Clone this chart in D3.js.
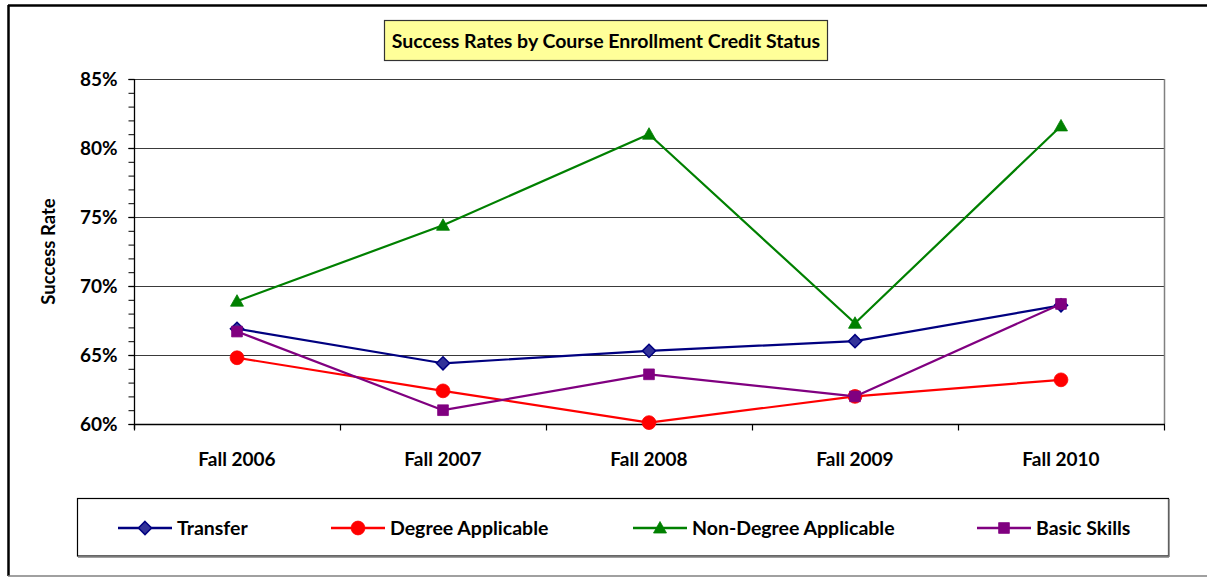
<!DOCTYPE html>
<html>
<head>
<meta charset="utf-8">
<script src="https://cdn.jsdelivr.net/npm/d3@7"></script>
<style>
  html, body { margin: 0; padding: 0; background: #fff; }
  svg { display: block; font-family: Lato, "Open Sans", sans-serif; }
</style>
</head>
<body>
<svg id="chart" width="1207" height="577"></svg>
<script>
const categories = ["Fall 2006", "Fall 2007", "Fall 2008", "Fall 2009", "Fall 2010"];
const transfer = [0.669, 0.644, 0.653, 0.660, 0.686];
const degreeApplicable = [0.648, 0.624, 0.601, 0.620, 0.632];
const nonDegreeApplicable = [0.689, 0.744, 0.810, 0.673, 0.816];
const basicSkills = [0.667, 0.610, 0.636, 0.620, 0.687];
const yTickValues = [0.60, 0.65, 0.70, 0.75, 0.80, 0.85];
const yMinorTickValues = d3.range(60, 86, 1).map(v => v / 100);
const titleText = "Success Rates by Course Enrollment Credit Status";
const yAxisTitle = "Success Rate";

const series = [
  { name: "Transfer", values: transfer, color: "#000080", fill: "#333399", shape: "diamond" },
  { name: "Degree Applicable", values: degreeApplicable, color: "#FF0000", fill: "#FF0000", shape: "circle" },
  { name: "Non-Degree Applicable", values: nonDegreeApplicable, color: "#008000", fill: "#008000", shape: "triangle" },
  { name: "Basic Skills", values: basicSkills, color: "#800080", fill: "#800080", shape: "square" }
];

const svg = d3.select("#chart");
const W = 1207, H = 577;
const plot = { left: 134, right: 1164, top: 79, bottom: 424 };

// outer chart border
svg.append("line").attr("x1", 8).attr("x2", W).attr("y1", 5.5).attr("y2", 5.5)
  .attr("stroke", "#000").attr("stroke-width", 2.5);
svg.append("line").attr("x1", 8.5).attr("x2", 8.5).attr("y1", 5).attr("y2", 576)
  .attr("stroke", "#000").attr("stroke-width", 2.5);
svg.append("line").attr("x1", 8).attr("x2", W).attr("y1", 576).attr("y2", 576)
  .attr("stroke", "#808080").attr("stroke-width", 1.5);

const x = d3.scaleBand().domain(categories).range([plot.left, plot.right]);
const y = d3.scaleLinear().domain([0.60, 0.85]).range([plot.bottom, plot.top]);

// gridlines
svg.append("g").selectAll("line").data(yTickValues).join("line")
  .attr("x1", plot.left).attr("x2", plot.right)
  .attr("y1", d => Math.round(y(d)) + 0.5).attr("y2", d => Math.round(y(d)) + 0.5)
  .attr("stroke", "#3a3a3a").attr("stroke-width", 1.2);

// plot area right border
svg.append("line").attr("x1", plot.right + 0.5).attr("x2", plot.right + 0.5)
  .attr("y1", plot.top).attr("y2", plot.bottom)
  .attr("stroke", "#808080").attr("stroke-width", 1.5);

// y axis minor ticks
const yMinor = svg.append("g").attr("transform", `translate(${plot.left + 0.5},0)`)
  .call(d3.axisLeft(y).tickValues(yMinorTickValues).tickSize(6).tickFormat(""));
yMinor.select(".domain").remove();
yMinor.selectAll("line").attr("stroke", "#000").attr("stroke-width", 1);

// y axis major
const yAxis = svg.append("g").attr("transform", `translate(${plot.left + 0.5},0)`)
  .call(d3.axisLeft(y).tickValues(yTickValues).tickSize(6).tickPadding(11).tickFormat(d3.format(".0%")))
  .call(g => g.select(".domain").attr("d", `M0,${plot.top}V${plot.bottom + 5}`));
yAxis.selectAll("text").attr("font-family", "Lato, sans-serif").attr("font-size", 19)
  .attr("font-weight", "bold").attr("fill", "#000");
yAxis.selectAll("path, line").attr("stroke", "#000").attr("stroke-width", 1.3);

// x axis with tick marks between categories
const xAxis = svg.append("g").attr("transform", `translate(0,${plot.bottom + 0.5})`);
xAxis.append("line").attr("x1", plot.left).attr("x2", plot.right + 1)
  .attr("stroke", "#000").attr("stroke-width", 1.3);
const boundaries = categories.map(c => x(c)).concat([x(categories[categories.length - 1]) + x.bandwidth()]);
xAxis.selectAll("line.tk").data(boundaries).join("line").attr("class", "tk")
  .attr("x1", d => Math.round(d) + 0.5).attr("x2", d => Math.round(d) + 0.5)
  .attr("y1", 0).attr("y2", 6).attr("stroke", "#000").attr("stroke-width", 1.2);
xAxis.selectAll("text").data(categories).join("text")
  .attr("x", d => x(d) + x.bandwidth() / 2).attr("y", 41)
  .attr("text-anchor", "middle").attr("font-size", 19).attr("font-weight", "bold")
  .text(d => d);

// y axis title
svg.append("text")
  .attr("transform", `translate(55,${(plot.top + plot.bottom) / 2}) rotate(-90)`)
  .attr("text-anchor", "middle").attr("font-size", 18.5).attr("font-weight", "bold")
  .text(yAxisTitle);

// title box
const titleG = svg.append("g");
titleG.append("rect").attr("x", 384.5).attr("y", 20.5).attr("width", 443).attr("height", 40)
  .attr("fill", "#FFFF99").attr("stroke", "#333").attr("stroke-width", 1.2);
titleG.append("text").attr("x", 606).attr("y", 48).attr("text-anchor", "middle")
  .attr("font-size", 19.5).attr("font-weight", "bold").text(titleText);

function symbolFor(shape) {
  if (shape === "diamond") return d3.symbol().type(d3.symbolDiamond2).size(110)();
  if (shape === "circle") return d3.symbol().type(d3.symbolCircle).size(150)();
  if (shape === "triangle") return "M0,-6.5L6.5,5L-6.5,5Z";
  return d3.symbol().type(d3.symbolSquare).size(115)();
}

const line = d3.line().x((d, i) => x(categories[i]) + x.bandwidth() / 2).y(d => y(d));

series.forEach(s => {
  const g = svg.append("g");
  g.append("path").attr("d", line(s.values)).attr("fill", "none")
    .attr("stroke", s.color).attr("stroke-width", 2.2).attr("stroke-linejoin", "round");
  g.selectAll("path.m").data(s.values).join("path").attr("class", "m")
    .attr("transform", (d, i) => `translate(${x(categories[i]) + x.bandwidth() / 2},${y(d)})`)
    .attr("d", symbolFor(s.shape))
    .attr("fill", s.fill).attr("stroke", s.color).attr("stroke-width", s.shape === "diamond" ? 1.5 : 0.8);
});

// legend
const legend = svg.append("g");
legend.append("rect").attr("x", 77.5).attr("y", 498.5).attr("width", 1091).attr("height", 57.5)
  .attr("fill", "#fff").attr("stroke", "#000").attr("stroke-width", 1.2);
legend.append("line").attr("x1", 78).attr("x2", 1169).attr("y1", 557).attr("y2", 557)
  .attr("stroke", "#808080").attr("stroke-width", 1.5);
legend.append("line").attr("x1", 1169).attr("x2", 1169).attr("y1", 499).attr("y2", 557)
  .attr("stroke", "#808080").attr("stroke-width", 1.5);
const legendX = [145, 358, 660, 1004];
series.forEach((s, i) => {
  const cx = legendX[i], cy = 528;
  legend.append("line").attr("x1", cx - 27).attr("x2", cx + 27).attr("y1", cy).attr("y2", cy)
    .attr("stroke", s.color).attr("stroke-width", 2.5);
  legend.append("path").attr("transform", `translate(${cx},${cy})`).attr("d", symbolFor(s.shape))
    .attr("fill", s.fill).attr("stroke", s.color).attr("stroke-width", s.shape === "diamond" ? 1.5 : 0.8);
  legend.append("text").attr("x", cx + 32).attr("y", cy + 7).attr("font-size", 19.5)
    .attr("font-weight", "bold").text(s.name);
});
</script>
</body>
</html>
